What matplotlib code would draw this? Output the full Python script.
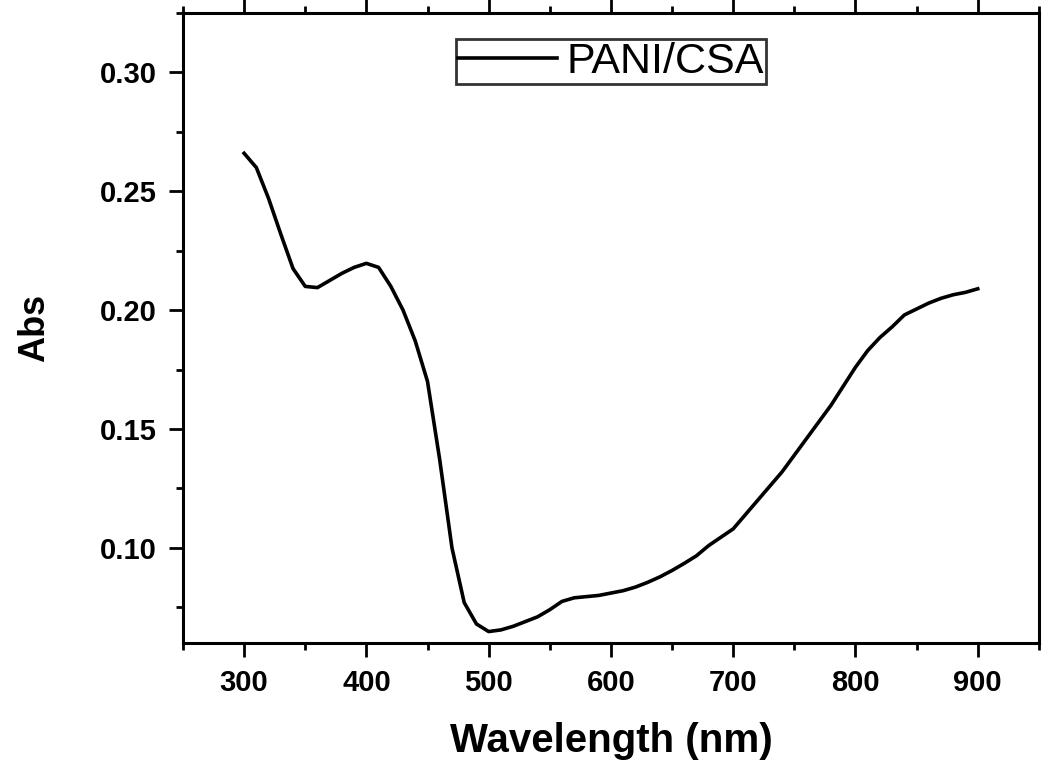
import matplotlib
matplotlib.use("Agg")
import matplotlib.pyplot as plt
from matplotlib.ticker import MultipleLocator

# Спектр поглощения PANI/CSA
wavelength = [300, 310, 320, 330, 340, 350, 360, 370, 380, 390,
              400, 410, 420, 430, 440, 450, 460, 470, 480, 490,
              500, 510, 520, 530, 540, 550, 560, 570, 580, 590,
              600, 610, 620, 630, 640, 650, 660, 670, 680, 690,
              700, 710, 720, 730, 740, 750, 760, 770, 780, 790,
              800, 810, 820, 830, 840, 850, 860, 870, 880, 890, 900]
absorbance = [0.266, 0.260, 0.247, 0.232, 0.2175, 0.210, 0.2095, 0.2125, 0.2155, 0.218,
              0.2197, 0.218, 0.210, 0.200, 0.187, 0.170, 0.137, 0.100, 0.077, 0.068,
              0.0648, 0.0655, 0.067, 0.069, 0.071, 0.074, 0.0775, 0.079, 0.0795, 0.080,
              0.081, 0.082, 0.0835, 0.0855, 0.0878, 0.0905, 0.0935, 0.0967, 0.101, 0.1045,
              0.108, 0.114, 0.120, 0.126, 0.132, 0.139, 0.146, 0.153, 0.160, 0.168,
              0.176, 0.183, 0.1885, 0.193, 0.198, 0.2005, 0.203, 0.205, 0.2065, 0.2075, 0.209]
series_label = "PANI/CSA"

plt.rcParams['font.family'] = ['Liberation Sans', 'DejaVu Sans']

fig = plt.figure(figsize=(10.42, 7.67), dpi=100)
ax = fig.add_axes([0.1756, 0.1617, 0.8214, 0.8213])

ax.plot(wavelength, absorbance, color="black", linewidth=2.6, label=series_label)

ax.set_xlim(250, 950)
ax.set_ylim(0.06, 0.325)
ax.xaxis.set_major_locator(MultipleLocator(100))
ax.xaxis.set_minor_locator(MultipleLocator(50))
ax.yaxis.set_major_locator(MultipleLocator(0.05))
ax.yaxis.set_minor_locator(MultipleLocator(0.025))
ax.yaxis.set_major_formatter(matplotlib.ticker.FormatStrFormatter('%.2f'))

ax.tick_params(which="both", direction="out", width=2, top=True, right=False,
               labeltop=False, labelsize=21)
ax.tick_params(which="major", length=10, pad=9)
ax.tick_params(which="minor", length=5)
for lbl in ax.get_xticklabels() + ax.get_yticklabels():
    lbl.set_fontweight("bold")
for s in ax.spines.values():
    s.set_linewidth(2.2)

ax.set_xlabel("Wavelength (nm)", fontsize=29, fontweight="bold", labelpad=18)
ax.set_ylabel("Abs", fontsize=26, fontweight="bold", labelpad=34)

leg = ax.legend(loc="upper center", bbox_to_anchor=(0.5, 0.958), fontsize=31,
                frameon=True, fancybox=False, edgecolor="black",
                handlelength=2.3, handletextpad=0.2, borderpad=0.05,
                borderaxespad=0)
leg.get_frame().set_linewidth(2)

fig.savefig("out.png", dpi=100)
